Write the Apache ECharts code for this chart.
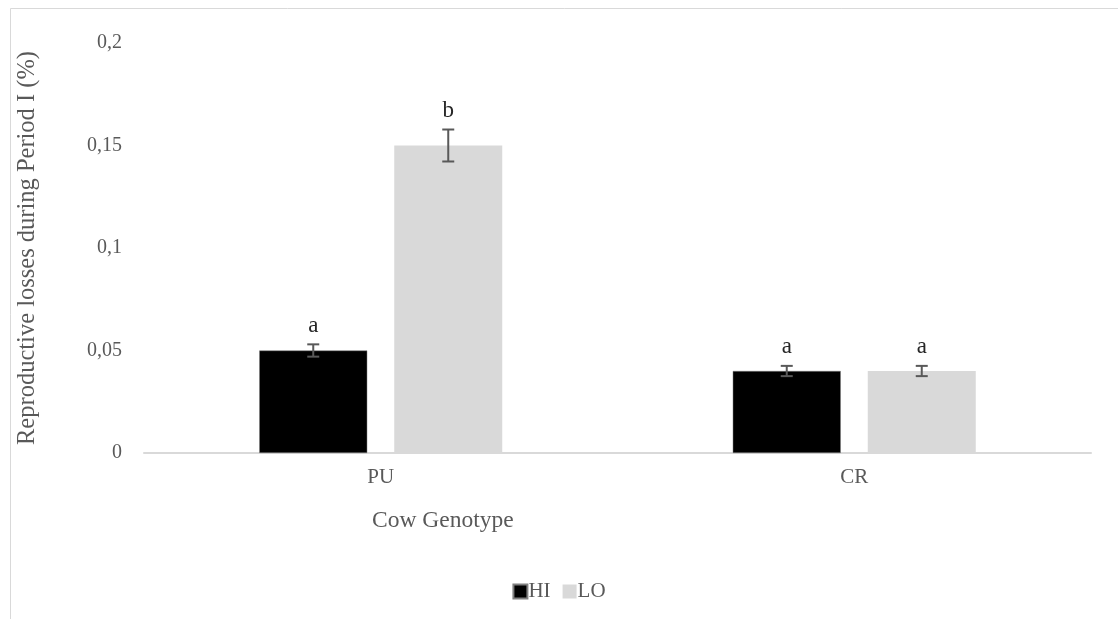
<!DOCTYPE html>
<html>
<head>
<meta charset="utf-8">
<script src="https://cdn.jsdelivr.net/npm/echarts@6/dist/echarts.min.js"></script>
<style>
html,body{margin:0;padding:0;background:#fff;}
#chart{width:1118px;height:619px;}
</style>
</head>
<body>
<div id="chart"></div>
<script>
var categories = ['PU', 'CR'];
var seriesNames = ['HI', 'LO'];
var hiValues = [0.05, 0.04];
var loValues = [0.15, 0.04];
var hiErrors = [0.003, 0.0025];
var loErrors = [0.0078, 0.0025];
var hiLetters = ['a', 'a'];
var loLetters = ['b', 'a'];
var yTicks = [0, 0.05, 0.1, 0.15, 0.2];

var FONT = '"Liberation Serif", "Times New Roman", serif';
var BAR_W = 108, BAR_GAP = 27;

function errData(vals, errs, letters, sIdx) {
  return vals.map(function (v, i) { return [i, v, errs[i], letters[i], sIdx]; });
}

function renderErr(params, api) {
  var ci = api.value(0), v = api.value(1), e = api.value(2);
  var letter = api.value(3), s = api.value(4);
  var off = (s === 0 ? -1 : 1) * (BAR_W + BAR_GAP) / 2;
  var pTop = api.coord([ci, v + e]);
  var pBot = api.coord([ci, v - e]);
  var x = pTop[0] + off;
  var cap = 6;
  var st = { stroke: '#595959', lineWidth: 2 };
  return {
    type: 'group',
    children: [
      { type: 'line', shape: { x1: x, y1: pTop[1], x2: x, y2: pBot[1] }, style: st },
      { type: 'line', shape: { x1: x - cap, y1: pTop[1], x2: x + cap, y2: pTop[1] }, style: st },
      { type: 'line', shape: { x1: x - cap, y1: pBot[1], x2: x + cap, y2: pBot[1] }, style: st },
      { type: 'text', style: { text: letter, x: x, y: pTop[1] - 7, align: 'center', verticalAlign: 'bottom',
          font: '23px ' + FONT, fill: '#262626' } }
    ]
  };
}

var chart = echarts.init(document.getElementById('chart'));
chart.setOption({
  animation: false,
  backgroundColor: '#fff',
  textStyle: { fontFamily: FONT },
  graphic: [
    { type: 'rect', shape: { x: 10.5, y: 8.5, width: 1300, height: 800 },
      style: { fill: 'none', stroke: '#d9d9d9', lineWidth: 1 }, silent: true },
    { type: 'text', left: 372, top: 509,
      style: { text: 'Cow Genotype', font: '23.5px ' + FONT, fill: '#595959' } }
  ],
  grid: { left: 144, right: 27, top: 43, bottom: 166 },
  legend: {
    data: seriesNames,
    left: 'center', top: 576,
    itemWidth: 14, itemHeight: 14, itemGap: 12,
    icon: 'rect',
    textStyle: { fontFamily: FONT, fontSize: 21, color: '#595959', padding: [0, 0, 0, -4] }
  },
  xAxis: {
    type: 'category',
    data: categories,
    axisLine: { lineStyle: { color: '#d9d9d9', width: 2 } },
    axisTick: { show: false },
    axisLabel: { fontFamily: FONT, fontSize: 21, color: '#595959', margin: 14 }
  },
  yAxis: {
    type: 'value',
    min: 0, max: 0.2, interval: 0.05,
    name: 'Reproductive losses during Period I (%)',
    nameLocation: 'middle',
    nameGap: 104,
    nameTextStyle: { fontFamily: FONT, fontSize: 24.5, color: '#595959' },
    axisLine: { show: false },
    axisTick: { show: false },
    splitLine: { show: false },
    axisLabel: {
      fontFamily: FONT, fontSize: 20, color: '#595959', margin: 22,
      formatter: function (v) { return String(+v.toFixed(2)).replace('.', ','); }
    }
  },
  series: [
    { name: 'HI', type: 'bar', data: hiValues, barWidth: BAR_W, barGap: (BAR_GAP / BAR_W * 100) + '%',
      itemStyle: { color: '#000000', borderColor: '#7f7f7f', borderWidth: 0.5 } },
    { name: 'LO', type: 'bar', data: loValues, barWidth: BAR_W,
      itemStyle: { color: '#d9d9d9' } },
    { type: 'custom', renderItem: renderErr, data: errData(hiValues, hiErrors, hiLetters, 0), z: 10, silent: true },
    { type: 'custom', renderItem: renderErr, data: errData(loValues, loErrors, loLetters, 1), z: 10, silent: true }
  ]
});
</script>
</body>
</html>
